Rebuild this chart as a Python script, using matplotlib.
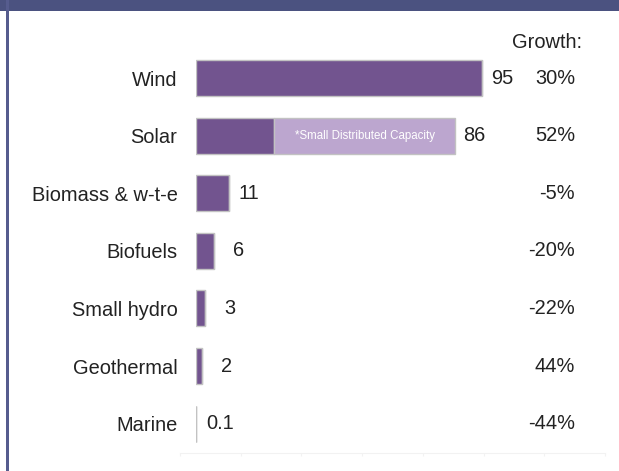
import matplotlib
matplotlib.use("Agg")
import matplotlib.pyplot as plt
from matplotlib.patches import Rectangle

# capacity by technology (GW), solar split into utility + small distributed
categories = ["Wind", "Solar", "Biomass & w-t-e", "Biofuels", "Small hydro", "Geothermal", "Marine"]
capacity = [95, 26, 11, 6, 3, 2, 0.1]
distributed = [0, 60, 0, 0, 0, 0, 0]
value_labels = ["95", "86", "11", "6", "3", "2", "0.1"]
growth = ["30%", "52%", "-5%", "-20%", "-22%", "44%", "-44%"]

DARK = "#72548f"
LIGHT = "#bca6cf"
EDGE = "#c2c2c2"
TEXT = "#222222"
FS = 14.4

plt.rcParams["font.family"] = ["Liberation Sans", "DejaVu Sans"]

W, H = 619, 471
fig = plt.figure(figsize=(W / 100, H / 100), dpi=100)
fig.patch.set_facecolor("white")

# frame: dark band on top, thin line on the left
fig.add_artist(Rectangle((0, 1 - 10.5 / H), 1, 10.5 / H, transform=fig.transFigure,
                         color="#4b5280", lw=0))
fig.add_artist(Rectangle((6 / W, 0), 2.7 / W, 1, transform=fig.transFigure,
                         color="#565c8e", lw=0))

# faint baseline with ticks under the rows
axb = fig.add_axes([180 / W, 1 - 453.3 / H, 425 / W, 0.001])
axb.set_xlim(0, 7)
axb.set_xticks(range(8))
axb.tick_params(axis="x", length=2.5, color="#f2f2f2", labelbottom=False)
axb.set_yticks([])
for s in ["top", "left", "right"]:
    axb.spines[s].set_visible(False)
axb.spines["bottom"].set_color("#f2f2f2")
axb.patch.set_alpha(0)

# main bar axes
left_px, right_px = 195.5, 575
top_px, bot_px = 49.2, 452.4
ax = fig.add_axes([left_px / W, 1 - bot_px / H, (right_px - left_px) / W, (bot_px - top_px) / H])
ax.patch.set_alpha(0)
ax.set_xlim(0, (right_px - left_px) / 3.02)
ax.set_ylim(len(categories) - 0.5, -0.5)

y = list(range(len(categories)))
ax.barh(y, capacity, height=0.625, color=DARK, edgecolor=EDGE, linewidth=1)
ax.barh(y, distributed, left=capacity, height=0.625, color=LIGHT, edgecolor=EDGE, linewidth=1)

for yi, c, d in zip(y, capacity, distributed):
    if d > 0:
        ax.text(c + d / 2, yi, "*Small Distributed Capacity", ha="center", va="center",
                color="white", fontsize=8.3)

for yi, c, d, lab in zip(y, capacity, distributed, value_labels):
    end = c + d
    if "." in lab:
        ax.annotate(lab, (end, yi), xytext=(7.5, 0), textcoords="offset points",
                    ha="left", va="center", fontsize=FS, color=TEXT)
    else:
        ax.annotate(lab, (end, yi), xytext=(22, 0), textcoords="offset points",
                    ha="right", va="center", fontsize=FS, color=TEXT)

trans = ax.get_yaxis_transform()
for yi, g in zip(y, growth):
    ax.text(1.0, yi, g, transform=trans, ha="right", va="center", fontsize=FS, color=TEXT)
ax.annotate("Growth:", (1.0, 1.0), xycoords="axes fraction", xytext=(5, 4.5),
            textcoords="offset points", ha="right", va="center", fontsize=FS, color=TEXT)

ax.set_yticks(y)
ax.set_yticklabels(categories, fontsize=FS, color=TEXT)
ax.tick_params(axis="y", length=0, pad=13)
ax.set_xticks([])
for s in ax.spines.values():
    s.set_visible(False)

fig.savefig("out.png", dpi=100)
